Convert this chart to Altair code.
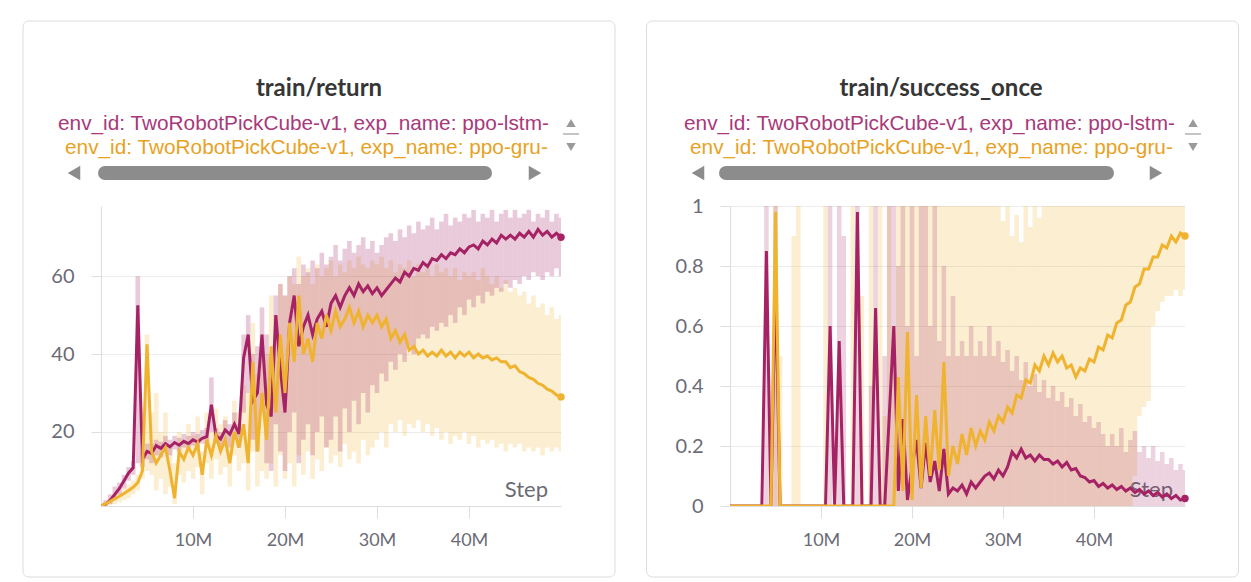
import altair as alt
import pandas as pd

# ---------------- data (steps in millions) ----------------
steps = [i * 0.5 for i in range(101)]

# train/return
ret_lstm = [1, 1.5, 2.5, 4, 5.5, 7.5, 9.5, 10.8, 52.5, 13,
            15, 14.5, 16.5, 15.8, 17, 16.2, 17.3, 16.6, 17.6, 17,
            18, 17.4, 18.4, 18.8, 27, 19, 18.2, 20.5, 19.4, 22,
            19.5, 39, 45, 28, 30, 45, 27, 24, 50, 36,
            25, 48, 55, 42, 47, 50, 45, 49, 51, 47,
            53, 55, 52, 55, 57, 55, 58, 56, 57.5, 55.5,
            57, 55, 56.5, 58, 59.5, 58.5, 61, 60, 62, 61.5,
            63.5, 62.5, 64.5, 64, 65.5, 64.5, 66, 65.5, 67, 66,
            67.5, 68, 67, 69, 68, 69.5, 68.5, 70.5, 69.5, 70.5,
            69.5, 71, 70, 71.5, 70, 72, 70.5, 71.5, 70, 71,
            70]
ret_lstm_hi = [1.5, 2.5, 4, 6, 7, 9, 11, 12.5, 60, 15,
               17, 17, 18, 17.5, 19, 18, 19, 18.5, 19.5, 19,
               20, 19.5, 20.5, 21, 34, 21, 20, 23, 22, 25,
               22, 45, 50, 40, 42, 52, 45, 40, 55, 58,
               55, 60, 62, 58, 63, 61, 64, 62, 66, 63,
               65, 68, 64, 67, 69, 66, 68, 70, 67, 69,
               66, 68, 70, 71, 69, 72, 70, 73, 71, 74,
               72, 73, 75, 72, 74, 76, 73, 75, 74, 76,
               75, 77, 74, 76, 75, 77, 74, 76, 77, 75,
               77, 75, 76, 77, 74, 76, 75, 77, 74, 76,
               75]
ret_lstm_lo = [0.8, 1, 1.5, 2.5, 4, 5.5, 7.5, 9, 12, 11,
               13, 12, 14, 13.5, 15, 14, 15.5, 15, 16, 15.5,
               16.5, 16, 17, 17, 20, 17, 16, 17, 16, 18,
               16, 25, 30, 18, 15, 28, 12, 10, 22, 15,
               10, 20, 25, 12, 18, 22, 14, 20, 24, 16,
               18, 24, 15, 26, 20, 28, 22, 30, 25, 32,
               30, 35, 33, 38, 36, 40, 38, 42, 40, 44,
               45, 44, 47, 46, 48, 47, 50, 48, 52, 50,
               54, 52, 55, 53, 56, 55, 57, 56, 58, 57,
               59, 58, 60, 59, 61, 60, 59, 61, 60, 62,
               60]
ret_gru = [1, 1.6, 2.2, 2.9, 3.5, 4.2, 5, 5.8, 7, 10,
           42.5, 15, 12, 14, 16, 10, 3, 15, 13, 16,
           14, 17, 9, 18, 14, 19, 15, 18, 12, 20,
           16, 22, 12, 38, 15, 30, 18, 42, 25, 45,
           30, 48, 38, 55, 40, 44, 38, 48, 44, 50,
           46, 51, 47, 49, 52, 48, 51, 47, 50, 48,
           50, 47, 49, 44, 46, 43, 45, 41, 42, 40,
           41, 39.5, 40.5, 39.5, 41, 39.5, 40.5, 39, 40.5, 39.5,
           40.5, 39, 40, 39, 39.5, 38.5, 39, 38, 38, 36.5,
           37, 35.5, 35, 34, 33.5, 32.5, 32, 31, 30.5, 29.5,
           29]
ret_gru_hi = [1.2, 2, 2.8, 3.6, 4.5, 5.5, 6.5, 7.5, 9, 13,
              45, 25, 30, 20, 25, 16, 12, 20, 18, 22,
              19, 24, 15, 25, 20, 26, 22, 24, 20, 28,
              25, 32, 30, 48, 35, 45, 40, 55, 50, 58,
              55, 60, 58, 65, 60, 62, 58, 63, 60, 62,
              64, 60, 63, 61, 64, 62, 65, 63, 62, 64,
              63, 65, 62, 64, 61, 63, 62, 64, 60, 63,
              61, 62, 60, 63, 61, 62, 60, 62, 59, 61,
              60, 61, 59, 62, 60, 58, 60, 57, 59, 56,
              57, 55, 56, 53, 55, 52, 53, 50, 52, 49,
              50]
ret_gru_lo = [0.8, 1, 1.2, 1.5, 2, 2.5, 3, 4, 5, 8,
              10, 9, 5, 8, 4, 6, 1.5, 9, 7, 10,
              8, 11, 4, 12, 8, 13, 9, 11, 6, 14,
              10, 12, 5, 15, 6, 10, 8, 12, 6, 14,
              8, 12, 6, 14, 9, 15, 8, 13, 10, 16,
              12, 14, 11, 17, 13, 15, 12, 18, 14, 16,
              18, 20, 16, 22, 20, 23, 19, 22, 21, 23,
              20, 22, 19, 21, 18, 20, 17, 19, 18, 20,
              17, 19, 16, 18, 17, 18, 16, 17, 15, 17,
              16, 17, 15, 16, 15, 16, 14, 16, 15, 16,
              15]

# train/success_once
suc_lstm = [0, 0, 0, 0, 0, 0, 0, 0, 0.85, 0,
            0.77, 0, 0, 0, 0, 0, 0, 0, 0, 0,
            0, 0, 0.6, 0, 0.55, 0, 0, 0, 0.98, 0,
            0, 0, 0.66, 0, 0, 0.3, 0.6, 0.05, 0.29, 0.02,
            0.13, 0.22, 0.06, 0.21, 0.08, 0.15, 0.05, 0.19, 0.04, 0.06,
            0.05, 0.07, 0.04, 0.08, 0.06, 0.08, 0.1, 0.11, 0.09, 0.12,
            0.1, 0.13, 0.18, 0.16, 0.19, 0.16, 0.17, 0.15, 0.17, 0.155,
            0.155, 0.14, 0.15, 0.13, 0.145, 0.12, 0.125, 0.1, 0.095, 0.08,
            0.085, 0.065, 0.075, 0.06, 0.07, 0.055, 0.065, 0.05, 0.06, 0.045,
            0.055, 0.04, 0.05, 0.035, 0.045, 0.03, 0.04, 0.025, 0.035, 0.02,
            0.025]
suc_lstm_hi = [0, 0, 0, 0, 0, 0, 0, 0, 1, 0,
               1, 0, 0, 0, 0, 0, 0, 0, 0, 0,
               0, 0, 1, 0, 1, 0.9, 0, 0, 1, 0,
               0, 0.4, 1, 0, 0.5, 1, 1, 0.8, 1, 0.6,
               1, 0.5, 1, 1, 0.6, 1, 0.55, 0.8, 0.5, 0.7,
               0.5, 0.55, 0.5, 0.6, 0.5, 0.55, 0.5, 0.6, 0.5, 0.55,
               0.48, 0.52, 0.45, 0.5, 0.42, 0.48, 0.4, 0.44, 0.38, 0.42,
               0.36, 0.4, 0.35, 0.38, 0.33, 0.36, 0.3, 0.34, 0.28, 0.3,
               0.26, 0.28, 0.24, 0.2, 0.24, 0.2, 0.26, 0.18, 0.22, 0.25,
               0.18, 0.2, 0.16, 0.2, 0.15, 0.18, 0.14, 0.16, 0.12, 0.14,
               0.12]
suc_lstm_lo = [0, 0, 0, 0, 0, 0, 0, 0, 0, 0,
               0, 0, 0, 0, 0, 0, 0, 0, 0, 0,
               0, 0, 0, 0, 0, 0, 0, 0, 0, 0,
               0, 0, 0, 0, 0, 0, 0, 0, 0, 0,
               0, 0, 0, 0, 0, 0, 0, 0, 0, 0,
               0, 0, 0, 0, 0, 0, 0, 0, 0, 0,
               0, 0, 0, 0, 0, 0, 0, 0, 0, 0,
               0, 0, 0, 0, 0, 0, 0, 0, 0, 0,
               0, 0, 0, 0, 0, 0, 0, 0, 0, 0,
               0, 0, 0, 0, 0, 0, 0, 0, 0, 0,
               0]
suc_gru = [0, 0, 0, 0, 0, 0, 0, 0, 0, 0,
           0.98, 0, 0, 0, 0, 0, 0, 0, 0, 0,
           0, 0, 0, 0, 0, 0, 0, 0, 0, 0,
           0, 0, 0, 0, 0, 0, 0, 0.43, 0.05, 0.58,
           0.02, 0.37, 0.06, 0.3, 0.1, 0.32, 0.12, 0.48, 0.1, 0.2,
           0.14, 0.24, 0.17, 0.26, 0.2, 0.25, 0.22, 0.28, 0.25, 0.3,
           0.28, 0.33, 0.31, 0.37, 0.36, 0.42, 0.41, 0.47, 0.45, 0.5,
           0.47, 0.51, 0.48, 0.5, 0.46, 0.47, 0.43, 0.46, 0.45, 0.49,
           0.48, 0.53, 0.52, 0.57, 0.56, 0.61, 0.62, 0.67, 0.68, 0.73,
           0.74, 0.79, 0.79, 0.83, 0.83, 0.87, 0.86, 0.9, 0.88, 0.91,
           0.9]
suc_gru_hi = [0, 0, 0, 0, 0, 0, 0, 0, 0, 0.3,
              1, 0.5, 0, 0, 0.9, 1, 0, 0, 0, 0,
              0, 1, 0, 0, 0, 0, 0, 1, 0, 0.7,
              0, 1, 0, 1, 0.3, 1, 0.6, 1, 1, 1,
              1, 1, 1, 1, 1, 1, 1, 1, 1, 1,
              1, 1, 1, 1, 1, 1, 1, 1, 1, 1,
              0.95, 1, 0.9, 0.97, 0.88, 1, 0.93, 1, 0.96, 1,
              1, 1, 1, 1, 1, 1, 1, 1, 1, 1,
              1, 1, 1, 1, 1, 1, 1, 1, 1, 1,
              1, 1, 1, 1, 1, 1, 1, 1, 1, 1,
              1]
suc_gru_lo = [0, 0, 0, 0, 0, 0, 0, 0, 0, 0,
              0, 0, 0, 0, 0, 0, 0, 0, 0, 0,
              0, 0, 0, 0, 0, 0, 0, 0, 0, 0,
              0, 0, 0, 0, 0, 0, 0, 0, 0, 0,
              0, 0, 0, 0, 0, 0, 0, 0, 0, 0,
              0, 0, 0, 0, 0, 0, 0, 0, 0, 0,
              0, 0, 0, 0, 0, 0, 0, 0, 0, 0,
              0, 0, 0, 0, 0, 0, 0, 0, 0, 0,
              0, 0, 0, 0, 0, 0, 0, 0, 0, 0.1,
              0.3, 0.33, 0.35, 0.6, 0.65, 0.68, 0.7, 0.7, 0.72, 0.7,
              0.72]

legend_lstm = "env_id: TwoRobotPickCube-v1, exp_name: ppo-lstm-"
legend_gru = "env_id: TwoRobotPickCube-v1, exp_name: ppo-gru-"
x_ticks = [10, 20, 30, 40]

# ---------------- styles ----------------
PURPLE = "#a52364"
ORANGE = "#efb32f"
LEG_P = "#a8397a"
LEG_O = "#e8a21f"
FONT = "Lato"
LEG_FONT = "Liberation Sans"
LAB = "#6b6b76"
AX = "#dedede"
GRID = "#ececec"
SCROLL = "#8c8c8c"

df_ret = pd.DataFrame({"step": steps, "lstm": ret_lstm, "lstm_hi": ret_lstm_hi, "lstm_lo": ret_lstm_lo,
                       "gru": ret_gru, "gru_hi": ret_gru_hi, "gru_lo": ret_gru_lo})
df_suc = pd.DataFrame({"step": steps, "lstm": suc_lstm, "lstm_hi": suc_lstm_hi, "lstm_lo": suc_lstm_lo,
                       "gru": suc_gru, "gru_hi": suc_gru_hi, "gru_lo": suc_gru_lo})


def xenc():
    return alt.X("step:Q", scale=alt.Scale(domain=[0, 50], nice=False, zero=False, padding=0),
                 axis=alt.Axis(values=x_ticks, labelExpr="datum.value + 'M'", title=None, grid=False,
                               domainColor=AX, tickColor=AX, tickSize=12, labelPadding=13,
                               labelFontSize=18, labelColor=LAB, labelFont=FONT))


def yenc(field, domain, values, fmt):
    return alt.Y(f"{field}:Q", scale=alt.Scale(domain=domain, nice=False, zero=False, padding=0),
                 axis=alt.Axis(values=values, format=fmt, title=None, grid=True, gridColor=GRID,
                               domainColor=AX, tickColor=AX, tickSize=10, labelPadding=17,
                               labelFontSize=20, labelColor=LAB, labelFont=FONT))


def decor(o):
    """Card, title, legend and scroll widgets, in pixel offsets from the plot origin."""
    layers = []
    layers.append(alt.Chart().mark_rect(filled=False, stroke="#dcdcdc", strokeWidth=1, cornerRadius=6).encode(
        x=alt.value(o["card_l"]), x2=alt.value(o["card_r"]), y=alt.value(-185), y2=alt.value(371)))
    layers.append(alt.Chart().mark_text(text=o["title"], font=FONT, fontSize=24, fontWeight="bold",
                                        color="#363636", align="center", baseline="alphabetic").encode(
        x=alt.value(o["title_x"]), y=alt.value(-110)))
    layers.append(alt.Chart().mark_text(text=legend_lstm, font=LEG_FONT, fontSize=20.8, color=LEG_P,
                                        align="left", baseline="alphabetic").encode(
        x=alt.value(o["leg1"]), y=alt.value(-76)))
    layers.append(alt.Chart().mark_text(text=legend_gru, font=LEG_FONT, fontSize=20.8, color=LEG_O,
                                        align="left", baseline="alphabetic").encode(
        x=alt.value(o["leg2"]), y=alt.value(-52)))
    layers.append(alt.Chart().mark_rule(color=SCROLL, strokeWidth=14, strokeCap="round").encode(
        x=alt.value(o["bar_l"]), x2=alt.value(o["bar_r"]), y=alt.value(-33)))
    layers.append(alt.Chart().mark_point(shape="triangle-left", filled=True, size=210, color=SCROLL,
                                         opacity=1).encode(x=alt.value(o["arr_l"]), y=alt.value(-33)))
    layers.append(alt.Chart().mark_point(shape="triangle-right", filled=True, size=210, color=SCROLL,
                                         opacity=1).encode(x=alt.value(o["arr_r"]), y=alt.value(-33)))
    layers.append(alt.Chart().mark_point(shape="triangle-up", filled=True, size=90, color="#9a9a9a",
                                         opacity=1).encode(x=alt.value(o["updown"]), y=alt.value(-83)))
    layers.append(alt.Chart().mark_point(shape="triangle-down", filled=True, size=90, color="#9a9a9a",
                                         opacity=1).encode(x=alt.value(o["updown"]), y=alt.value(-59)))
    layers.append(alt.Chart().mark_rule(color="#b0b0b0", strokeWidth=1.5).encode(
        x=alt.value(o["updown"] - 8), x2=alt.value(o["updown"] + 8), y=alt.value(-72)))
    layers.append(alt.Chart().mark_text(text="Step", font=FONT, fontSize=22, color=LAB,
                                        align="right", baseline="alphabetic").encode(
        x=alt.value(o["step_x"]), y=alt.value(291)))
    return layers


def panel(df, o, domain, yvals, fmt, W, op_p):
    base = alt.Chart(df)
    bw = W / 100.0
    band_o = base.mark_bar(color=ORANGE, opacity=0.22, width=bw, clip=True).encode(
        x=xenc(), y=yenc("gru_hi", domain, yvals, fmt), y2=alt.Y2("gru_lo:Q"))
    band_p = base.mark_bar(color=PURPLE, opacity=op_p, width=bw, clip=True).encode(
        x=xenc(), y=yenc("lstm_hi", domain, yvals, fmt), y2=alt.Y2("lstm_lo:Q"))
    line_p = base.mark_line(color=PURPLE, strokeWidth=3, clip=True).encode(
        x=xenc(), y=yenc("lstm", domain, yvals, fmt))
    line_o = base.mark_line(color=ORANGE, strokeWidth=3, clip=True).encode(
        x=xenc(), y=yenc("gru", domain, yvals, fmt))
    last = df.tail(1)
    end_p = alt.Chart(last).mark_circle(color=PURPLE, size=55, opacity=1).encode(
        x=xenc(), y=yenc("lstm", domain, yvals, fmt))
    end_o = alt.Chart(last).mark_circle(color=ORANGE, size=55, opacity=1).encode(
        x=xenc(), y=yenc("gru", domain, yvals, fmt))
    layers = decor(o) + [band_o, band_p, line_p, line_o, end_p, end_o]
    return alt.layer(*layers).properties(width=W, height=300)


o_left = dict(card_l=-78, card_r=514, title="train/return", title_x=218, leg1=-43, leg2=-36,
              bar_l=4, bar_r=384, arr_l=-27, arr_r=434, updown=470, step_x=447)
o_right = dict(card_l=-83.5, card_r=508.5, title="train/success_once", title_x=211, leg1=-46, leg2=-40,
               bar_l=-4, bar_r=377, arr_l=-32, arr_r=426, updown=463, step_x=443)

left = panel(df_ret, o_left, [1, 78], [20, 40, 60], "d", 460, 0.24)
right = panel(df_suc, o_right, [0, 1], [0, 0.2, 0.4, 0.6, 0.8, 1], "~g", 455, 0.2)

chart = alt.hconcat(left, right, spacing=30).properties(
    padding={"left": 14, "top": 12, "right": 4, "bottom": 4}
).configure_view(stroke=None)

chart.save("out.html", embed_options={"renderer": "svg", "actions": False})
